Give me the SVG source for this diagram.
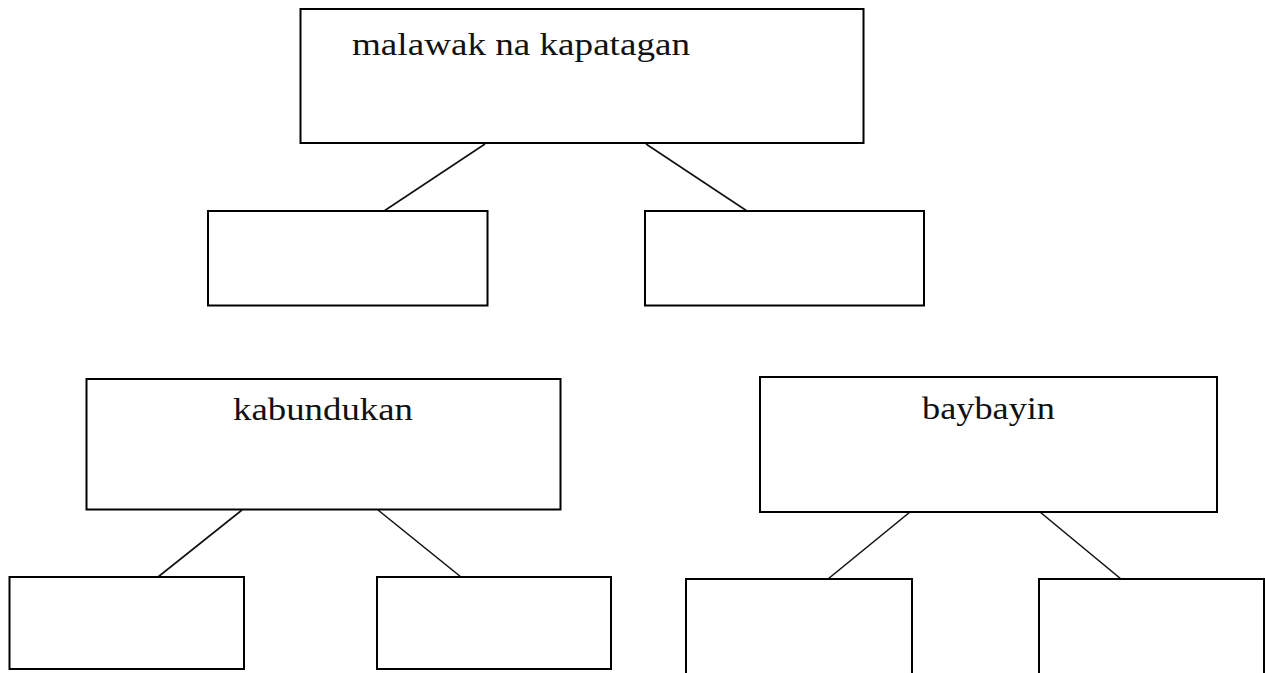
<svg xmlns="http://www.w3.org/2000/svg" width="1265" height="673" viewBox="0 0 1265 673">
<style>
.box{fill:#fff;stroke:#000;stroke-width:2}
.conn line{stroke:#111;stroke-width:1.6}
.lbl{font-size:32px;fill:#111}
</style>
<rect x="0" y="0" width="1265" height="673" fill="#fff"/>
<g class="conn" id="connectors">
<line x1="485" y1="144" x2="384" y2="211"/>
<line x1="646" y1="144" x2="747" y2="211"/>
<line x1="242" y1="510" x2="158" y2="577"/>
<line x1="378" y1="510" x2="461" y2="577"/>
<line x1="910" y1="512" x2="828" y2="579"/>
<line x1="1040" y1="512" x2="1121" y2="579"/>
</g>
<g id="node-kapatagan">
<rect class="box" x="300.5" y="9" width="563" height="134"/>
<text class="lbl" font-family="Liberation Serif, Times New Roman, serif" x="352" y="55" textLength="338" lengthAdjust="spacingAndGlyphs">malawak na kapatagan</text>
</g>
<g id="node-kapatagan-left"><rect class="box" x="208" y="211" width="279.5" height="94.5"/></g>
<g id="node-kapatagan-right"><rect class="box" x="645" y="211" width="279" height="94.5"/></g>
<g id="node-kabundukan">
<rect class="box" x="86.5" y="379" width="474" height="130.5"/>
<text class="lbl" font-family="Liberation Serif, Times New Roman, serif" x="233" y="420" textLength="180" lengthAdjust="spacingAndGlyphs">kabundukan</text>
</g>
<g id="node-kabundukan-left"><rect class="box" x="9.5" y="577" width="234.5" height="92"/></g>
<g id="node-kabundukan-right"><rect class="box" x="377" y="577" width="234" height="92"/></g>
<g id="node-baybayin">
<rect class="box" x="760" y="377" width="457" height="135"/>
<text class="lbl" font-family="Liberation Serif, Times New Roman, serif" x="922" y="419" textLength="133" lengthAdjust="spacingAndGlyphs">baybayin</text>
</g>
<g id="node-baybayin-left"><rect class="box" x="686" y="579" width="226" height="100"/></g>
<g id="node-baybayin-right"><rect class="box" x="1039" y="579" width="225" height="100"/></g>
</svg>
